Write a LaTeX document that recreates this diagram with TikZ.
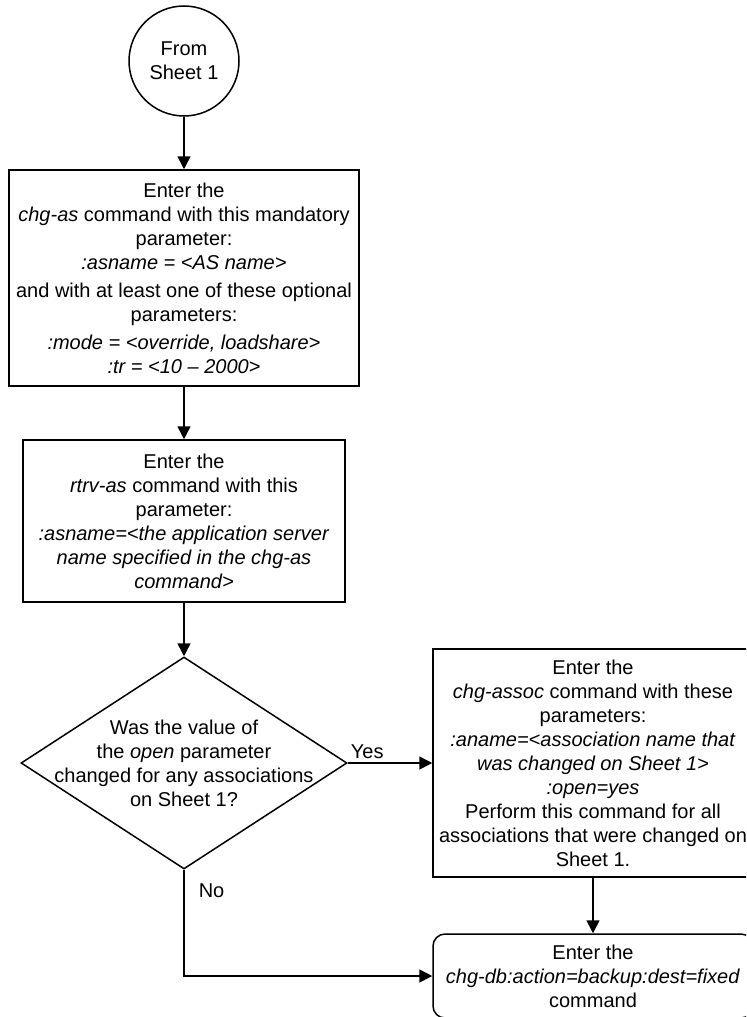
\documentclass[tikz,border=0pt]{standalone}
\usepackage{fontspec}
\setmainfont{Liberation Sans}
\usetikzlibrary{arrows.meta,shapes.geometric}

\begin{document}
\begin{tikzpicture}[x=0.5pt, y=-0.5pt, line width=0.75pt,
  font=\fontsize{10}{12}\selectfont,
  box/.style={draw, rectangle, align=center, inner sep=0pt},
  arr/.style={-{Triangle[length=6.5pt,width=6.5pt]}}]
  \useasboundingbox (0,0) rectangle (746,1017);
  \clip (0,0) rectangle (746,1017);
  \node[draw, circle, minimum size=55pt, align=center, inner sep=0pt] (from) at (184,61) {From\\Sheet 1};
  \node[box, minimum width=175pt, minimum height=108pt] (chgas) at (184,278) {Enter the\\\textit{chg-as} command with this mandatory\\parameter:\\\textit{:asname = <AS name>}\\[2pt]and with at least one of these optional\\parameters:\\[2pt]\textit{:mode = <override, loadshare>}\\\textit{:tr = <10 -- 2000>}};
  \node[box, minimum width=161pt, minimum height=81pt] (rtrvas) at (184,521) {Enter the\\\textit{rtrv-as} command with this\\parameter:\\\textit{:asname=<the application server}\\\textit{name specified in the chg-as}\\\textit{command>}};
  \node[draw, diamond, minimum width=163pt, minimum height=106pt, inner sep=0pt] (open) at (184,763) {};
  \node[align=center] (opentext) at (open) {Was the value of\\the \textit{open} parameter\\changed for any associations\\on Sheet 1?};
  \node[box, minimum width=160pt, minimum height=114pt] (chgassoc) at (593,763) {Enter the\\\textit{chg-assoc} command with these\\parameters:\\\textit{:aname=<association name that}\\\textit{was changed on Sheet 1>}\\\textit{:open=yes}\\Perform this command for all\\associations that were changed on\\Sheet 1.};
  \node[box, rounded corners=6pt, minimum width=160pt, minimum height=42pt] (chgdb) at (593,976) {Enter the\\\textit{chg-db:action=backup:dest=fixed}\\command};

  \draw[arr] (from) -- (chgas);
  \draw[arr] (chgas) -- (rtrvas);
  \draw[arr] (rtrvas) -- (open);
  \draw[arr] (open) -- node[pos=0.23, above, inner sep=2pt] (yes) {Yes} (chgassoc);
  \draw[arr] (chgassoc) -- (chgdb);
  \draw[arr] (open.south) |- node[pos=0.1, right, inner sep=7pt] (no) {No} (chgdb.west);
\end{tikzpicture}
\end{document}
